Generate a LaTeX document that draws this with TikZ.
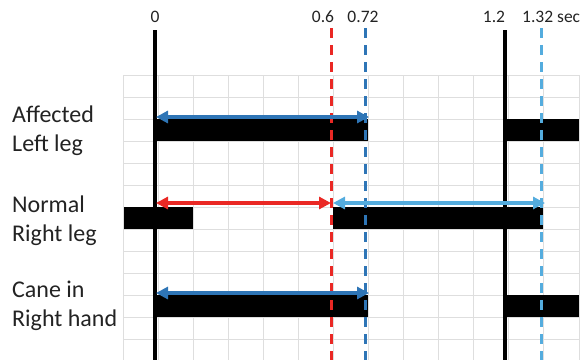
\documentclass[tikz,border=0pt]{standalone}
\usepackage{fontspec}
\setmainfont{Carlito}
\usetikzlibrary{arrows.meta}

\definecolor{gridgray}{RGB}{222,222,222}
\definecolor{stepblue}{RGB}{46,117,182}
\definecolor{swingblue}{RGB}{84,172,222}
\definecolor{stepred}{RGB}{234,40,36}
\definecolor{labelgray}{RGB}{35,35,35}

\tikzset{
  phasebar/.style={fill=black},
  limb/.style={font=\fontsize{24}{29}\selectfont, text=labelgray, align=left, anchor=west, inner sep=0pt},
  tick/.style={font=\fontsize{17.5}{20}\selectfont, text=labelgray, anchor=base, inner sep=0pt},
  event/.style={line width=3.5pt},
  cue/.style={line width=3pt, dash pattern=on 10pt off 7pt},
  span/.style={line width=3.5pt, {Triangle[length=12pt,width=12pt]}-{Triangle[length=12pt,width=12pt]}}
}

\begin{document}
\begin{tikzpicture}[x=1pt, y=-1pt]
    \useasboundingbox (0,0) rectangle (586,360);

    % Grid
    \foreach \i in {0,...,13}
        \draw[gridgray, line width=1pt] ({123+35.08*\i},75) -- ({123+35.08*\i},360);
    \foreach \j in {0,...,13}
        \draw[gridgray, line width=1pt] (123,{75+22*\j}) -- (579,{75+22*\j});

    % Time labels
    \node[tick] (t0) at (155,22) {0};
    \node[tick] (t06) at (323,22) {0.6};
    \node[tick] (t072) at (363,22) {0.72};
    \node[tick] (t12) at (494,22) {1.2};
    \node[tick, anchor=base west] (t132) at (522,22) {1.32 sec};

    % Limb labels
    \node[limb] (affected) at (12,131) {Affected\\Left leg};
    \node[limb] (normal) at (12,221) {Normal\\Right leg};
    \node[limb] (cane) at (12,306) {Cane in\\Right hand};

    % Stance phases
    \fill[phasebar] (155,119) rectangle (368,141);
    \fill[phasebar] (505,119) rectangle (579,141);
    \fill[phasebar] (124,207) rectangle (193,229);
    \fill[phasebar] (333,207) rectangle (543,229);
    \fill[phasebar] (155,295) rectangle (368,317);
    \fill[phasebar] (505,295) rectangle (579,317);

    % Events
    \draw[event] (155,30) -- (155,360);
    \draw[event] (505,30) -- (505,360);
    \draw[cue, stepred] (331,28) -- (331,360);
    \draw[cue, stepblue] (365,28) -- (365,360);
    \draw[cue, swingblue] (541,28) -- (541,360);

    % Durations
    \coordinate (l0) at (156,117);
    \coordinate (l1) at (369,117);
    \coordinate (r0) at (156,203);
    \coordinate (r1) at (331,203);
    \coordinate (r2) at (333,203);
    \coordinate (r3) at (545,203);
    \coordinate (c0) at (156,293);
    \coordinate (c1) at (369,293);
    \draw[span, stepblue] (l0) -- (l1);
    \draw[span, stepred] (r0) -- (r1);
    \draw[span, swingblue] (r2) -- (r3);
    \draw[span, stepblue] (c0) -- (c1);
\end{tikzpicture}
\end{document}
